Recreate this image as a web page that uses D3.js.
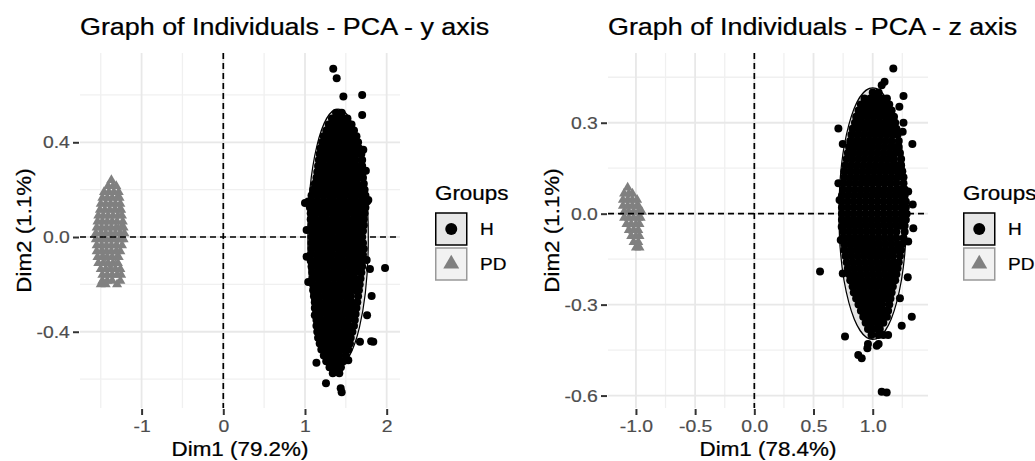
<!DOCTYPE html>
<html><head><meta charset="utf-8">
<script src="https://cdn.jsdelivr.net/npm/d3@7"></script>
<style>
body{margin:0;background:#fff}
svg{display:block}
text{font-family:"Liberation Sans",Arial,Helvetica,sans-serif}
</style>
</head><body>
<svg id="chart" width="1035" height="461"></svg>
<script>
// ---------------- DATA ----------------
const groups = ["H", "PD"];
const legendTitle = "Groups";

const leftTitle = "Graph of Individuals - PCA - y axis";
const leftXLabel = "Dim1 (79.2%)";
const leftYLabel = "Dim2 (1.1%)";
const leftXTicks = [-1, 0, 1, 2];
const leftXTickLabels = ["-1", "0", "1", "2"];
const leftXMinor = [-1.5, -0.5, 0.5, 1.5];
const leftYTicks = [-0.4, 0, 0.4];
const leftYTickLabels = ["-0.4", "0.0", "0.4"];
const leftYMinor = [-0.6, -0.2, 0.2, 0.6];
const leftXDomain = [-1.754, 2.163];
const leftYDomain = [-0.722, 0.777];

const rightTitle = "Graph of Individuals - PCA - z axis";
const rightXLabel = "Dim1 (78.4%)";
const rightYLabel = "Dim2 (1.1%)";
const rightXTicks = [-1, -0.5, 0, 0.5, 1];
const rightXTickLabels = ["-1.0", "-0.5", "0.0", "0.5", "1.0"];
const rightXMinor = [-0.75, -0.25, 0.25, 0.75, 1.25];
const rightYTicks = [-0.6, -0.3, 0, 0.3];
const rightYTickLabels = ["-0.6", "-0.3", "0.0", "0.3"];
const rightYMinor = [-0.45, -0.15, 0.15, 0.45];
const rightXDomain = [-1.236, 1.467];
const rightYDomain = [-0.641, 0.530];

// ellipses: [cx, cy, rx, ry]
const leftEllipseH = [1.405, 0.0, 0.37, 0.54];
const leftEllipsePD = [-1.38, 0.02, 0.10, 0.15];
const rightEllipseH = [1.0, 0.0, 0.285, 0.415];
const rightEllipsePD = [-1.03, -0.005, 0.055, 0.07];

// points stored as rows: [dim2, [dim1 values...]]
const leftHRows = [
 [0.525,[1.38,1.45]],
 [0.500,[1.33,1.40,1.47,1.52]],
 [0.475,[1.29,1.36,1.43,1.50,1.57]],
 [0.450,[1.26,1.33,1.39,1.46,1.53,1.60]],
 [0.425,[1.23,1.30,1.37,1.44,1.50,1.57,1.63]],
 [0.400,[1.21,1.28,1.35,1.41,1.48,1.55,1.61,1.65]],
 [0.375,[1.19,1.26,1.32,1.39,1.46,1.52,1.59,1.66]],
 [0.350,[1.18,1.24,1.31,1.37,1.44,1.50,1.57,1.63,1.69]],
 [0.325,[1.17,1.23,1.30,1.36,1.43,1.49,1.56,1.62,1.70]],
 [0.300,[1.16,1.22,1.29,1.35,1.42,1.48,1.55,1.61,1.67,1.70]],
 [0.275,[1.15,1.21,1.28,1.34,1.41,1.47,1.54,1.60,1.66,1.71]],
 [0.250,[1.14,1.20,1.27,1.33,1.40,1.46,1.53,1.59,1.65,1.71]],
 [0.225,[1.12,1.19,1.25,1.32,1.38,1.45,1.51,1.58,1.64,1.72]],
 [0.200,[1.10,1.17,1.24,1.30,1.37,1.43,1.50,1.56,1.63,1.69,1.73]],
 [0.175,[1.08,1.15,1.22,1.29,1.35,1.42,1.48,1.55,1.61,1.68,1.74]],
 [0.150,[1.04,1.09,1.16,1.23,1.30,1.36,1.43,1.49,1.56,1.62,1.69,1.76]],
 [0.125,[1.06,1.13,1.20,1.27,1.33,1.40,1.46,1.53,1.59,1.66,1.74]],
 [0.100,[1.07,1.14,1.21,1.27,1.34,1.40,1.47,1.53,1.60,1.66,1.73]],
 [0.075,[1.07,1.13,1.20,1.26,1.33,1.39,1.46,1.52,1.59,1.65,1.72]],
 [0.050,[1.08,1.15,1.21,1.28,1.34,1.41,1.47,1.54,1.60,1.67,1.72]],
 [0.025,[1.08,1.14,1.21,1.27,1.34,1.40,1.47,1.53,1.60,1.66,1.71]],
 [0.000,[1.08,1.15,1.21,1.28,1.34,1.41,1.47,1.54,1.60,1.66,1.70]],
 [-0.025,[1.08,1.14,1.21,1.27,1.34,1.40,1.47,1.53,1.60,1.66,1.71]],
 [-0.050,[1.08,1.15,1.21,1.28,1.34,1.41,1.47,1.54,1.60,1.67,1.72]],
 [-0.075,[1.07,1.14,1.20,1.27,1.33,1.40,1.46,1.53,1.59,1.65,1.71]],
 [-0.100,[1.07,1.13,1.20,1.26,1.33,1.39,1.46,1.52,1.59,1.65,1.70]],
 [-0.125,[1.08,1.15,1.21,1.28,1.34,1.41,1.47,1.54,1.60,1.66,1.70]],
 [-0.150,[1.09,1.15,1.22,1.28,1.35,1.41,1.48,1.54,1.61,1.69]],
 [-0.175,[1.09,1.16,1.22,1.29,1.35,1.42,1.48,1.55,1.61,1.68]],
 [-0.200,[1.10,1.16,1.23,1.29,1.36,1.42,1.49,1.55,1.62,1.67]],
 [-0.225,[1.10,1.17,1.23,1.30,1.36,1.43,1.49,1.56,1.62,1.66]],
 [-0.250,[1.11,1.17,1.24,1.30,1.37,1.43,1.50,1.56,1.65]],
 [-0.275,[1.12,1.18,1.25,1.31,1.38,1.44,1.51,1.57,1.64]],
 [-0.300,[1.12,1.19,1.25,1.32,1.38,1.45,1.51,1.58,1.63]],
 [-0.325,[1.13,1.19,1.26,1.32,1.39,1.45,1.52,1.57,1.62]],
 [-0.350,[1.14,1.20,1.27,1.33,1.40,1.46,1.53,1.61]],
 [-0.375,[1.14,1.21,1.27,1.34,1.40,1.47,1.53,1.60]],
 [-0.400,[1.15,1.21,1.28,1.34,1.41,1.47,1.53,1.58]],
 [-0.425,[1.16,1.23,1.29,1.36,1.42,1.49,1.56]],
 [-0.450,[1.18,1.24,1.31,1.37,1.44,1.50,1.55]],
 [-0.475,[1.20,1.27,1.33,1.40,1.46,1.53]],
 [-0.500,[1.23,1.29,1.36,1.42,1.50]],
 [-0.525,[1.26,1.33,1.40,1.47]],
 [-0.550,[1.30,1.37,1.44]],
 [-0.575,[1.34,1.42]]
];
const leftHOutliers = [
 [1.346,0.710],[1.388,0.670],[1.470,0.593],[1.700,0.600],[1.700,0.515],[1.714,0.368],
 [1.775,0.156],[1.000,0.144],[1.020,0.030],[1.020,-0.083],[1.040,-0.190],[1.755,-0.097],
 [1.795,-0.135],[1.980,-0.131],[1.816,-0.249],[1.673,-0.442],[1.836,-0.442],[1.810,-0.440],
 [1.120,-0.330],[1.140,-0.531],[1.257,-0.618],[1.437,-0.639],[1.449,-0.656],[1.388,-0.555],
 [1.530,-0.520],[1.306,-0.548],[1.760,-0.330],[1.745,0.280]
];
const leftPDRows = [
 [0.240,[-1.37]],
 [0.215,[-1.41,-1.35,-1.31]],
 [0.190,[-1.46,-1.40,-1.34,-1.28]],
 [0.165,[-1.48,-1.42,-1.36,-1.30,-1.27]],
 [0.140,[-1.50,-1.44,-1.38,-1.32,-1.26]],
 [0.115,[-1.51,-1.45,-1.39,-1.33,-1.27,-1.25]],
 [0.090,[-1.53,-1.47,-1.41,-1.35,-1.29,-1.24]],
 [0.065,[-1.54,-1.48,-1.42,-1.36,-1.30,-1.23]],
 [0.040,[-1.55,-1.49,-1.43,-1.37,-1.31,-1.25,-1.22]],
 [0.015,[-1.56,-1.50,-1.44,-1.38,-1.32,-1.26,-1.21]],
 [-0.010,[-1.56,-1.50,-1.44,-1.38,-1.32,-1.26,-1.22]],
 [-0.035,[-1.55,-1.49,-1.43,-1.37,-1.31,-1.24]],
 [-0.060,[-1.55,-1.49,-1.43,-1.37,-1.31,-1.26]],
 [-0.085,[-1.54,-1.48,-1.42,-1.36,-1.30,-1.28]],
 [-0.110,[-1.53,-1.47,-1.41,-1.35,-1.29]],
 [-0.135,[-1.50,-1.44,-1.38,-1.32,-1.26]],
 [-0.160,[-1.48,-1.42,-1.36,-1.30,-1.25]],
 [-0.185,[-1.48,-1.42,-1.36,-1.26]],
 [-0.200,[-1.50,-1.44,-1.30]]
];

const rightHRows = [
 [0.40,[1.00,1.05]],
 [0.38,[0.93,0.98,1.03,1.08,1.12]],
 [0.36,[0.90,0.95,1.00,1.05,1.10,1.14]],
 [0.34,[0.88,0.93,0.98,1.03,1.08,1.12,1.16]],
 [0.32,[0.86,0.91,0.96,1.01,1.06,1.11,1.15,1.18]],
 [0.30,[0.85,0.90,0.95,1.00,1.05,1.10,1.15,1.19]],
 [0.28,[0.83,0.88,0.93,0.98,1.03,1.08,1.13,1.17,1.20]],
 [0.26,[0.82,0.87,0.92,0.97,1.02,1.07,1.12,1.17,1.21]],
 [0.24,[0.81,0.86,0.91,0.96,1.01,1.06,1.11,1.16,1.22]],
 [0.22,[0.80,0.85,0.90,0.95,1.00,1.05,1.10,1.15,1.19,1.22]],
 [0.20,[0.79,0.84,0.89,0.94,0.99,1.04,1.09,1.14,1.19,1.23]],
 [0.18,[0.78,0.83,0.88,0.93,0.98,1.03,1.08,1.13,1.18,1.24]],
 [0.16,[0.77,0.82,0.87,0.92,0.97,1.02,1.07,1.12,1.17,1.21,1.24]],
 [0.14,[0.76,0.81,0.86,0.91,0.96,1.01,1.06,1.11,1.16,1.21,1.25]],
 [0.12,[0.76,0.81,0.86,0.91,0.96,1.01,1.06,1.11,1.16,1.21,1.26]],
 [0.10,[0.75,0.80,0.85,0.90,0.95,1.00,1.05,1.10,1.15,1.20,1.26]],
 [0.08,[0.75,0.80,0.85,0.90,0.95,1.00,1.05,1.10,1.15,1.20,1.24,1.27]],
 [0.06,[0.74,0.79,0.84,0.89,0.94,0.99,1.04,1.09,1.14,1.19,1.24,1.27]],
 [0.04,[0.74,0.79,0.84,0.89,0.94,0.99,1.04,1.09,1.14,1.19,1.24,1.28]],
 [0.02,[0.74,0.79,0.84,0.89,0.94,0.99,1.04,1.09,1.14,1.19,1.24,1.28]],
 [0.00,[0.74,0.79,0.84,0.89,0.94,0.99,1.04,1.09,1.14,1.19,1.24,1.28]],
 [-0.02,[0.74,0.79,0.84,0.89,0.94,0.99,1.04,1.09,1.14,1.19,1.24,1.28]],
 [-0.04,[0.75,0.80,0.85,0.90,0.95,1.00,1.05,1.10,1.15,1.20,1.24,1.27]],
 [-0.06,[0.75,0.80,0.85,0.90,0.95,1.00,1.05,1.10,1.15,1.20,1.27]],
 [-0.08,[0.75,0.80,0.85,0.90,0.95,1.00,1.05,1.10,1.15,1.20,1.26]],
 [-0.10,[0.76,0.81,0.86,0.91,0.96,1.01,1.06,1.11,1.16,1.21,1.25]],
 [-0.12,[0.76,0.81,0.86,0.91,0.96,1.01,1.06,1.11,1.16,1.20,1.24]],
 [-0.14,[0.77,0.82,0.87,0.92,0.97,1.02,1.07,1.12,1.17,1.23]],
 [-0.16,[0.78,0.83,0.88,0.93,0.98,1.03,1.08,1.13,1.18,1.22]],
 [-0.18,[0.79,0.84,0.89,0.94,0.99,1.04,1.09,1.14,1.18,1.21]],
 [-0.20,[0.80,0.85,0.90,0.95,1.00,1.05,1.10,1.15,1.20]],
 [-0.22,[0.81,0.86,0.91,0.96,1.01,1.06,1.11,1.15,1.19]],
 [-0.24,[0.83,0.88,0.93,0.98,1.03,1.08,1.13,1.17]],
 [-0.26,[0.84,0.89,0.94,0.99,1.04,1.09,1.13,1.16]],
 [-0.28,[0.86,0.91,0.96,1.01,1.06,1.11,1.15]],
 [-0.30,[0.88,0.93,0.98,1.03,1.08,1.14]],
 [-0.32,[0.90,0.95,1.00,1.05,1.10,1.13]],
 [-0.34,[0.92,0.97,1.02,1.07,1.12]],
 [-0.36,[0.94,0.99,1.04,1.09]],
 [-0.38,[0.96,1.01,1.06]],
 [-0.40,[0.99,1.05]]
];
const rightHOutliers = [
 [1.174,0.479],[1.100,0.435],[1.076,0.424],[1.260,0.388],[1.225,0.353],[0.710,0.281],
 [0.747,0.230],[1.335,0.230],[1.253,0.270],[1.260,0.300],[0.555,-0.191],[1.343,-0.048],
 [1.338,0.030],[1.300,0.073],[1.300,-0.092],[1.287,0.000],[1.230,-0.279],[1.330,-0.340],
 [1.245,-0.370],[1.296,-0.210],[0.766,-0.405],[0.878,-0.466],[0.907,-0.477],[0.955,-0.444],
 [0.960,-0.430],[1.034,-0.436],[1.050,-0.430],[1.076,-0.587],[1.118,-0.590],[1.130,-0.400],
 [1.090,-0.400],[0.710,0.100],[0.720,0.045],[0.738,-0.043],[0.730,-0.087],[0.747,-0.197]
];
const rightPDRows = [
 [0.086,[-1.07]],
 [0.066,[-1.10,-1.06,-1.03]],
 [0.046,[-1.11,-1.07,-1.03,-0.99]],
 [0.026,[-1.11,-1.07,-1.03,-0.99,-0.98]],
 [0.006,[-1.10,-1.06,-1.02,-0.98,-0.95]],
 [-0.014,[-1.10,-1.06,-1.02,-0.98,-0.96]],
 [-0.034,[-1.08,-1.04,-1.00,-0.97]],
 [-0.054,[-1.06,-1.02,-0.98]],
 [-0.074,[-1.04,-1.00,-0.97]],
 [-0.094,[-1.02,-0.98]],
 [-0.112,[-1.00,-0.97]]
];

// ---------------- DRAW ----------------
const svg = d3.select("#chart");
const SX = 1.12;               // horizontal glyph stretch
const colH = "#000000", colPD = "#808080";

function rowsToPoints(rows) { return rows.flatMap(([yv, xs]) => xs.map(xv => [xv, yv])); }

function stext(g, x, y, str, size, anchor, fill, rotate, sx) {
  return g.append("text")
    .attr("transform", `translate(${x},${y})` + (rotate ? ` rotate(${rotate})` : "") + ` scale(${sx || SX},1)`)
    .attr("text-anchor", anchor).attr("font-size", size).attr("fill", fill)
    .attr("stroke", fill).attr("stroke-width", 0.25).text(str);
}

function panel(cfg) {
  const g = svg.append("g");
  const x = d3.scaleLinear().domain(cfg.xDomain).range([cfg.x0, cfg.x1]);
  const y = d3.scaleLinear().domain(cfg.yDomain).range([cfg.y1, cfg.y0]);

  // grid
  const grid = g.append("g");
  grid.selectAll(".vmin").data(cfg.xMinor).join("line")
    .attr("x1", d => x(d)).attr("x2", d => x(d)).attr("y1", cfg.y0).attr("y2", cfg.y1)
    .attr("stroke", "#f0f0f0").attr("stroke-width", 1.3);
  grid.selectAll(".hmin").data(cfg.yMinor).join("line")
    .attr("y1", d => y(d)).attr("y2", d => y(d)).attr("x1", cfg.x0).attr("x2", cfg.x1)
    .attr("stroke", "#f0f0f0").attr("stroke-width", 1.3);
  grid.selectAll(".vmaj").data(cfg.xTicks).join("line")
    .attr("x1", d => x(d)).attr("x2", d => x(d)).attr("y1", cfg.y0).attr("y2", cfg.y1)
    .attr("stroke", "#e8e8e8").attr("stroke-width", 1.8);
  grid.selectAll(".hmaj").data(cfg.yTicks).join("line")
    .attr("y1", d => y(d)).attr("y2", d => y(d)).attr("x1", cfg.x0).attr("x2", cfg.x1)
    .attr("stroke", "#e8e8e8").attr("stroke-width", 1.8);

  // ellipses
  const ell = (e, col, fill) => g.append("ellipse")
    .attr("cx", x(e[0])).attr("cy", y(e[1]))
    .attr("rx", x(e[0] + e[2]) - x(e[0])).attr("ry", y(e[1]) - y(e[1] + e[3]))
    .attr("fill", fill).attr("stroke", col).attr("stroke-width", 1.2);
  ell(cfg.ellH, colH, "rgba(0,0,0,0.1)");
  ell(cfg.ellPD, colPD, "rgba(128,128,128,0.1)");

  // H points
  const hPts = rowsToPoints(cfg.hRows).concat(cfg.hOut);
  g.append("g").selectAll("circle").data(hPts).join("circle")
    .attr("cx", d => x(d[0])).attr("cy", d => y(d[1])).attr("r", 4).attr("fill", colH);

  // PD points
  const tri = d3.symbol().type(d3.symbolTriangle).size(44);
  g.append("g").selectAll("path").data(rowsToPoints(cfg.pdRows)).join("path")
    .attr("d", tri).attr("transform", d => `translate(${x(d[0])},${y(d[1])})`).attr("fill", colPD);

  // dashed reference lines (on top)
  g.append("line").attr("x1", x(0)).attr("x2", x(0)).attr("y1", cfg.y0).attr("y2", cfg.y1)
    .attr("stroke", "#000").attr("stroke-width", 1.7).attr("stroke-dasharray", "6,4");
  g.append("line").attr("y1", y(0)).attr("y2", y(0)).attr("x1", cfg.x0).attr("x2", cfg.x1)
    .attr("stroke", "#000").attr("stroke-width", 1.7).attr("stroke-dasharray", "6,4");

  // axes
  const ax = g.append("g").attr("transform", `translate(0,${cfg.y1 + 1})`)
    .call(d3.axisBottom(x).tickValues(cfg.xTicks).tickFormat((d, i) => cfg.xTickLabels[i]).tickSize(6).tickPadding(5));
  const ay = g.append("g").attr("transform", `translate(${cfg.x0 - 1},0)`)
    .call(d3.axisLeft(y).tickValues(cfg.yTicks).tickFormat((d, i) => cfg.yTickLabels[i]).tickSize(6).tickPadding(2));
  [ax, ay].forEach(a => {
    a.select(".domain").remove();
    a.selectAll(".tick line").attr("stroke", "#333").attr("stroke-width", 2);
    a.selectAll(".tick text").attr("fill", "#4d4d4d").attr("font-size", 17)
      .attr("stroke", "#4d4d4d").attr("stroke-width", 0.2)
      .attr("font-family", '"Liberation Sans",Arial,sans-serif')
      .attr("transform", `scale(1.14,1)`);
  });

  // titles
  stext(g, cfg.x0, 35, cfg.title, 24, "start", "#000");
  stext(g, (cfg.x0 + cfg.x1) / 2, 456, cfg.xLabel, 20, "middle", "#000");
  stext(g, cfg.yLabelX, (cfg.y0 + cfg.y1) / 2, cfg.yLabel, 20, "middle", "#000", -90);

  // legend
  const lg = g.append("g");
  stext(lg, cfg.legX, 200, legendTitle, 20, "start", "#000");
  const keys = [
    {name: groups[0], stroke: "#000", fill: "#e6e6e6", y: 213},
    {name: groups[1], stroke: "#999", fill: "#f2f2f2", y: 248}
  ];
  keys.forEach((k, i) => {
    lg.append("rect").attr("x", cfg.legX + 0.75).attr("y", k.y).attr("width", 31).attr("height", 32)
      .attr("fill", k.fill).attr("stroke", k.stroke).attr("stroke-width", 1.5);
    const cx = cfg.legX + 16.25, cy = k.y + 16;
    if (i === 0) lg.append("circle").attr("cx", cx).attr("cy", cy).attr("r", 6).attr("fill", colH);
    else lg.append("path").attr("d", d3.symbol().type(d3.symbolTriangle).size(110))
      .attr("transform", `translate(${cx},${cy})`).attr("fill", colPD);
    stext(lg, cfg.legX + 45, cy + 6, k.name, 17, "start", "#000");
  });
}

panel({
  x0: 80, x1: 400, y0: 53, y1: 408,
  xDomain: leftXDomain, yDomain: leftYDomain,
  xTicks: leftXTicks, xTickLabels: leftXTickLabels, xMinor: leftXMinor,
  yTicks: leftYTicks, yTickLabels: leftYTickLabels, yMinor: leftYMinor,
  ellH: leftEllipseH, ellPD: leftEllipsePD,
  hRows: leftHRows, hOut: leftHOutliers, pdRows: leftPDRows,
  title: leftTitle, xLabel: leftXLabel, yLabel: leftYLabel, yLabelX: 31, legX: 435
});
panel({
  x0: 608, x1: 928, y0: 53, y1: 408,
  xDomain: rightXDomain, yDomain: rightYDomain,
  xTicks: rightXTicks, xTickLabels: rightXTickLabels, xMinor: rightXMinor,
  yTicks: rightYTicks, yTickLabels: rightYTickLabels, yMinor: rightYMinor,
  ellH: rightEllipseH, ellPD: rightEllipsePD,
  hRows: rightHRows, hOut: rightHOutliers, pdRows: rightPDRows,
  title: rightTitle, xLabel: rightXLabel, yLabel: rightYLabel, yLabelX: 559, legX: 963
});
</script>
</body></html>
